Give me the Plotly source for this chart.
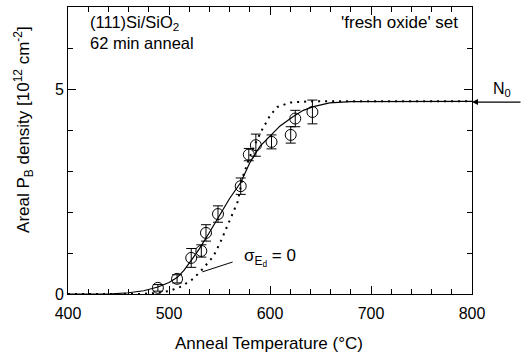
import plotly.graph_objects as go

# measured points
temp_pts = [489, 508, 522, 532, 536.6, 548.5, 571, 579, 586, 601.5, 620.5, 625, 642]
dens_pts = [0.15, 0.37, 0.88, 1.05, 1.49, 1.95, 2.63, 3.40, 3.63, 3.71, 3.88, 4.28, 4.44]
dens_err = [0.08, 0.1, 0.23, 0.15, 0.2, 0.2, 0.2, 0.15, 0.27, 0.17, 0.2, 0.2, 0.29]

# fit curve (solid)
fit_t = [400, 440, 460, 475, 489, 500, 508, 515, 522, 530, 540, 550, 560, 571, 580, 590,
         600, 610, 623, 633, 643, 659, 680, 800]
fit_y = [0, 0, 0.03, 0.08, 0.17, 0.28, 0.4, 0.58, 0.82, 1.1, 1.5, 1.93, 2.33, 2.72, 3.2, 3.6,
         3.85, 4.1, 4.33, 4.48, 4.57, 4.66, 4.69, 4.7]

# sigma = 0 curve (dotted)
s0_t = [400, 470, 485, 500, 512, 524, 534, 544, 551, 557, 563, 568, 573, 580, 587, 592,
        600, 607, 620, 640, 800]
s0_y = [0, 0, 0.02, 0.07, 0.18, 0.37, 0.63, 0.92, 1.27, 1.63, 1.97, 2.25, 2.85, 3.35, 3.75, 4.0,
        4.35, 4.56, 4.67, 4.7, 4.7]

N0 = 4.68

x_title = "Anneal Temperature (°C)"
y_title = "Areal P<sub>B</sub> density [10<sup>12</sup> cm<sup>-2</sup>]"

font = "Liberation Sans, Arial, sans-serif"

fig = go.Figure()
fig.add_trace(go.Scatter(x=s0_t, y=s0_y, mode="lines",
                         line=dict(color="black", width=2, dash="2px,5px"),
                         hoverinfo="skip"))
fig.add_trace(go.Scatter(x=fit_t, y=fit_y, mode="lines",
                         line=dict(color="black", width=1.2), hoverinfo="skip"))
fig.add_trace(go.Scatter(x=temp_pts, y=dens_pts, mode="markers",
                         marker=dict(symbol="circle-open", size=11, color="black",
                                     line=dict(width=1)),
                         error_y=dict(type="data", array=dens_err, color="black",
                                      thickness=1, width=5)))

# sigma pointer line
fig.add_shape(type="line", x0=533, y0=0.54, x1=563, y1=0.78,
              line=dict(color="black", width=1))

ann = []
ann.append(dict(x=572, y=0.9, xref="x", yref="y", xanchor="left", yanchor="middle",
                text="σ<sub>E<sub>d</sub></sub> = 0", showarrow=False,
                font=dict(size=17, color="black", family=font)))
ann.append(dict(x=800, y=N0, xref="x", yref="y", ax=50, ay=0, text="",
                showarrow=True, arrowhead=2, arrowsize=1, arrowwidth=1.2,
                arrowcolor="black"))
ann.append(dict(x=1.074, y=0.711, xref="paper", yref="paper", text="N<sub>0</sub>",
                xanchor="center", yanchor="middle",
                showarrow=False, font=dict(size=16, color="black", family=font)))
ann.append(dict(x=0.05, y=0.985, xref="paper", yref="paper", xanchor="left", yanchor="top",
                align="left", text="(111)Si/SiO<sub>2</sub><br>62 min anneal",
                showarrow=False, font=dict(size=16.5, color="black", family=font)))
ann.append(dict(x=0.97, y=0.985, xref="paper", yref="paper", xanchor="right", yanchor="top",
                text="'fresh oxide' set", showarrow=False,
                font=dict(size=17, color="black", family=font)))
ann.append(dict(x=0.4975, y=-0.174, xref="paper", yref="paper", xanchor="center",
                yanchor="middle", text=x_title, showarrow=False,
                font=dict(size=17, color="black", family=font)))
ann.append(dict(x=-0.109, y=0.575, xref="paper", yref="paper", xanchor="center",
                yanchor="middle", text=y_title, showarrow=False, textangle=-90,
                font=dict(size=17, color="black", family=font)))

fig.update_layout(
    width=523, height=358,
    margin=dict(l=68, r=51, t=7, b=64),
    paper_bgcolor="white", plot_bgcolor="white",
    showlegend=False,
    font=dict(family=font, size=16, color="black"),
    annotations=ann,
)
fig.update_xaxes(range=[400, 800], dtick=100, tick0=400, ticks="inside", ticklen=8,
                 tickcolor="black", showline=True, linecolor="black", linewidth=1,
                 mirror="ticks", showgrid=False, zeroline=False,
                 minor=dict(dtick=20, ticks="inside", ticklen=5, tickcolor="black"),
                 ticklabelstandoff=5,
                 tickfont=dict(size=16))
fig.update_yaxes(range=[0, 7], tickvals=[0, 5], ticks="inside", ticklen=8,
                 tickcolor="black", showline=True, linecolor="black", linewidth=1,
                 mirror="ticks", showgrid=False, zeroline=False,
                 minor=dict(dtick=1, tick0=0, ticks="inside", ticklen=5, tickcolor="black"),
                 tickfont=dict(size=16))

fig.write_html("out.html")
